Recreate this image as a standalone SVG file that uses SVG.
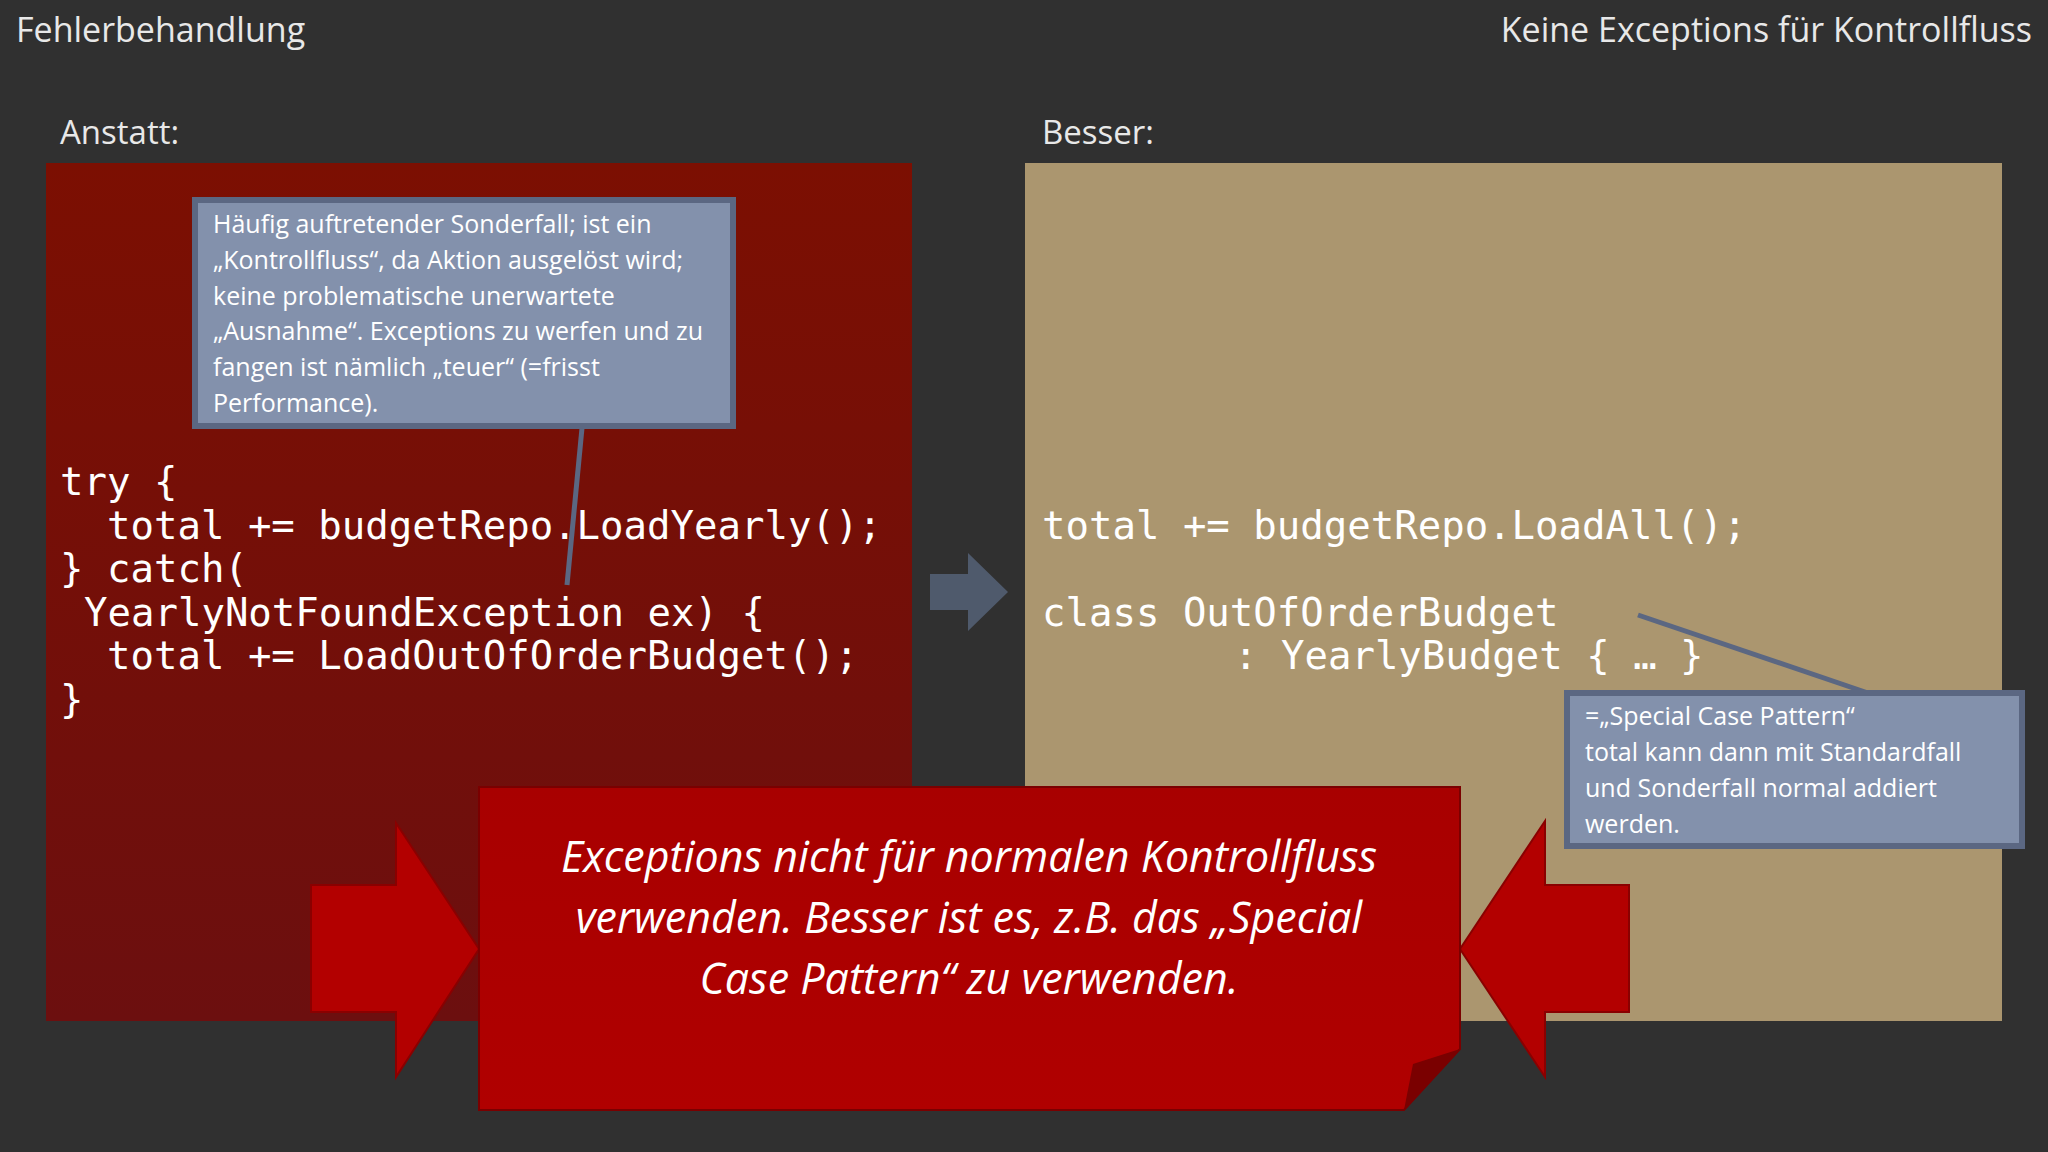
<svg xmlns="http://www.w3.org/2000/svg" width="2048" height="1152" viewBox="0 0 2048 1152">
<style>
.t{font-family:"Open Sans","Liberation Sans",sans-serif;fill:#e8e8e8}
.c{font-family:"DejaVu Sans Mono","Liberation Mono",monospace;font-size:39px;fill:#ffffff}
.n{font-family:"Open Sans","Liberation Sans",sans-serif;font-size:25px;fill:#ffffff}
.box{fill:#8391ac;stroke:#5b6782;stroke-width:6}
.big{font-family:"Open Sans","Liberation Sans",sans-serif;font-size:43px;font-style:italic;fill:#ffffff;text-anchor:middle}
.ra{fill:#b30000;stroke:#8a0000;stroke-width:2}
</style>
<defs>
<linearGradient id="lg" x1="0" y1="0" x2="0" y2="1"><stop offset="0" stop-color="#7c0f02"/><stop offset="1" stop-color="#6c0f0f"/></linearGradient>
<linearGradient id="bg" x1="0" y1="0" x2="0" y2="1"><stop offset="0" stop-color="#a80000"/><stop offset="1" stop-color="#b00000"/></linearGradient>
</defs>
<rect width="2048" height="1152" fill="#303030"/>
<text class="t" x="16" y="42" font-size="34">Fehlerbehandlung</text>
<text class="t" x="2032" y="42" font-size="34" text-anchor="end">Keine Exceptions für Kontrollfluss</text>
<text class="t" x="60" y="144" font-size="33">Anstatt:</text>
<text class="t" x="1042" y="144" font-size="33">Besser:</text>
<g id="left-panel">
<rect x="46" y="163" width="866" height="858" fill="url(#lg)"/>
<text class="c" x="60" y="495">try {</text>
<text class="c" x="107" y="539">total += budgetRepo.LoadYearly();</text>
<text class="c" x="60" y="582">} catch(</text>
<text class="c" x="84" y="626">YearlyNotFoundException ex) {</text>
<text class="c" x="107" y="669">total += LoadOutOfOrderBudget();</text>
<text class="c" x="60" y="713">}</text>
</g>
<g id="right-panel">
<rect x="1025" y="163" width="977" height="858" fill="#ab966f"/>
<text class="c" x="1042" y="539">total += budgetRepo.LoadAll();</text>
<text class="c" x="1042" y="626">class OutOfOrderBudget</text>
<text class="c" x="1234" y="669">: YearlyBudget { … }</text>
</g>
<g id="connectors">
<line x1="582" y1="428" x2="567" y2="585" stroke="#5b6782" stroke-width="5"/>
<line x1="1638" y1="615" x2="1868" y2="693" stroke="#5b6782" stroke-width="5"/>
<polygon points="930,574 968,574 968,553 1008,592 968,631 968,610 930,610" fill="#4f5a6c"/>
</g>
<g id="note-left">
<rect class="box" x="195" y="200" width="538" height="226"/>
<text class="n" x="213" y="233">Häufig auftretender Sonderfall; ist ein</text>
<text class="n" x="213" y="269">„Kontrollfluss“, da Aktion ausgelöst wird;</text>
<text class="n" x="213" y="305">keine problematische unerwartete</text>
<text class="n" x="213" y="340">„Ausnahme“. Exceptions zu werfen und zu</text>
<text class="n" x="213" y="376">fangen ist nämlich „teuer“ (=frisst</text>
<text class="n" x="213" y="412">Performance).</text>
</g>
<g id="note-right">
<rect class="box" x="1567" y="693" width="455" height="153"/>
<text class="n" x="1585" y="725">=„Special Case Pattern“</text>
<text class="n" x="1585" y="761">total kann dann mit Standardfall</text>
<text class="n" x="1585" y="797">und Sonderfall normal addiert</text>
<text class="n" x="1585" y="833">werden.</text>
</g>
<g id="arrow-left">
<polygon class="ra" points="311,885 396,885 396,823 479,949 396,1077 396,1012 311,1012"/>
</g>
<g id="arrow-right">
<polygon class="ra" points="1629,885 1545,885 1545,821 1460,949 1545,1077 1545,1012 1629,1012"/>
</g>
<g id="banner">
<path d="M479,787 H1460 V1049 L1404,1110 H479 Z" fill="url(#bg)" stroke="#7a0000" stroke-width="2"/>
<path d="M1404,1110 L1413,1064 L1460,1049 Z" fill="#7a0000"/>
<text class="big" x="969" y="872">Exceptions nicht für normalen Kontrollfluss</text>
<text class="big" x="969" y="933">verwenden. Besser ist es, z.B. das „Special</text>
<text class="big" x="969" y="994">Case Pattern“ zu verwenden.</text>
</g>
</svg>
